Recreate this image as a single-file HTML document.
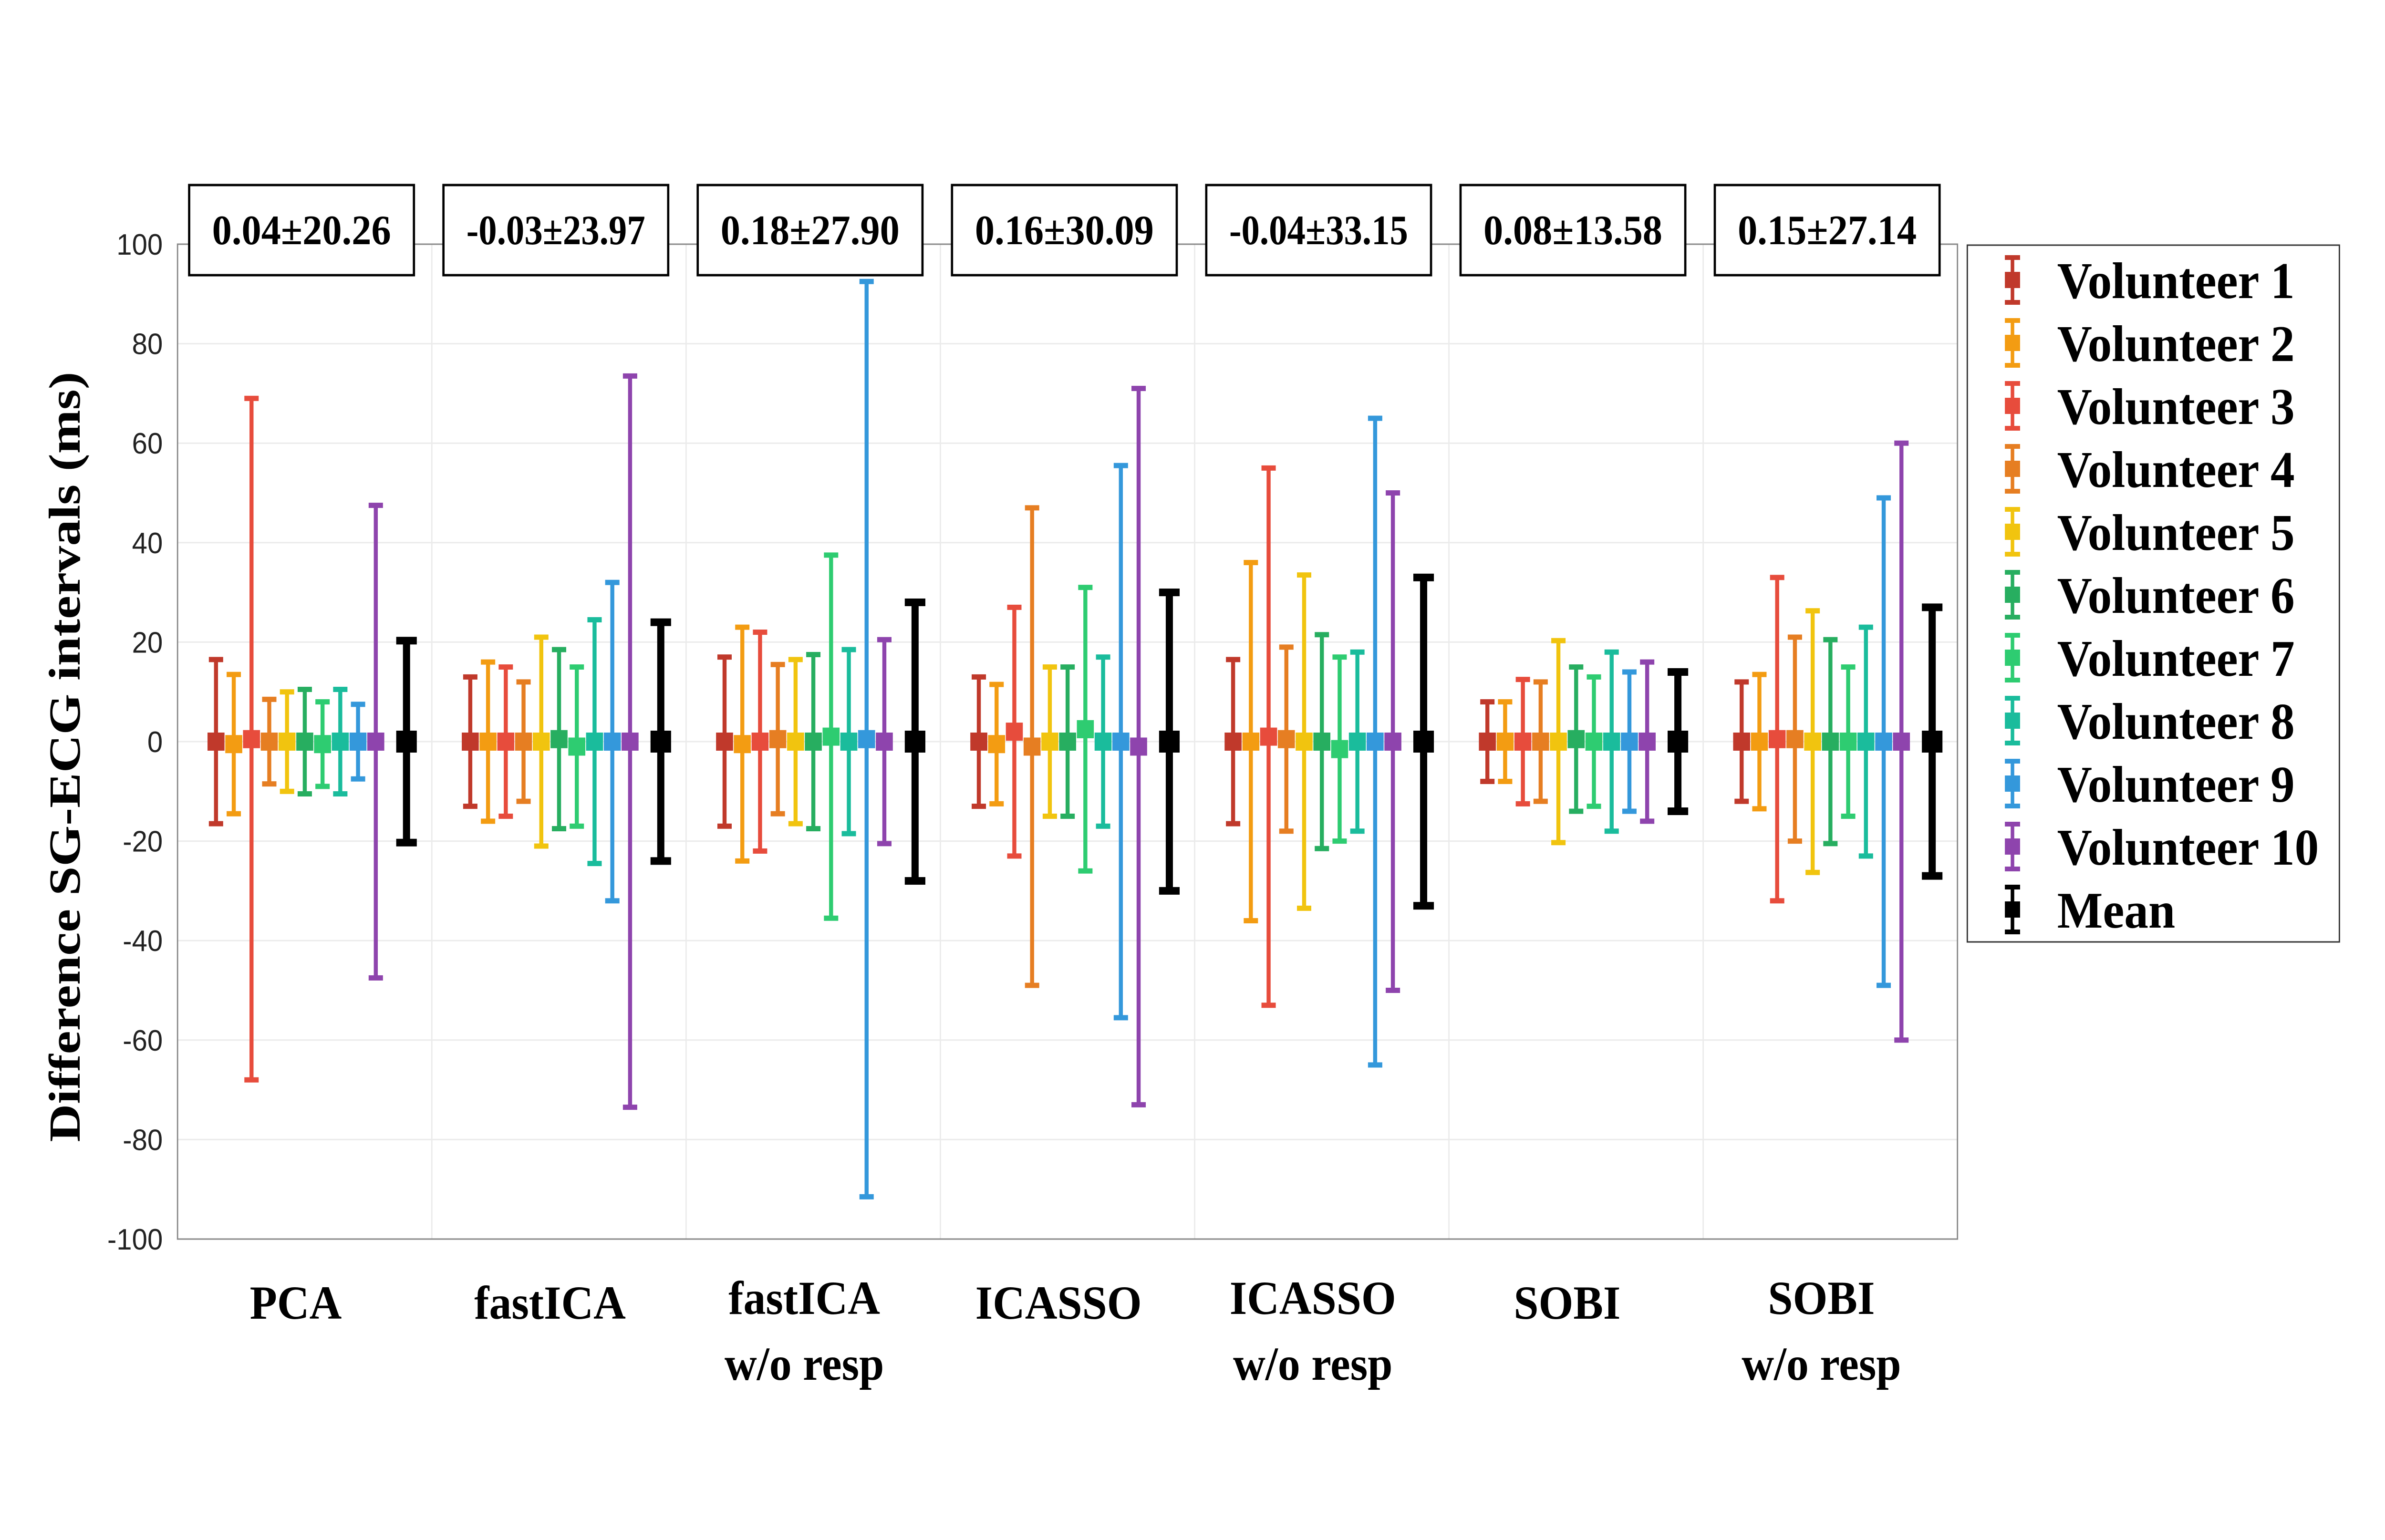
<!DOCTYPE html>
<html><head><meta charset="utf-8"><style>
html,body{margin:0;padding:0;background:#fff;width:100vw;height:100vh;overflow:hidden;}
svg{display:block;width:100vw;height:100vh;}
</style></head><body>
<svg id="chart" xmlns="http://www.w3.org/2000/svg" viewBox="0 0 5333 3229" preserveAspectRatio="none">
<rect width="5333" height="3229" fill="#fff"/>
<g id="grid"></g><g id="marks"></g><g id="labels"></g>
</svg>
<script>
const categories = ["PCA","fastICA","fastICA|w/o resp","ICASSO","ICASSO|w/o resp","SOBI","SOBI|w/o resp"];
const summaryLabels = ["0.04±20.26","-0.03±23.97","0.18±27.90","0.16±30.09","-0.04±33.15","0.08±13.58","0.15±27.14"];
const seriesNames = ["Volunteer 1","Volunteer 2","Volunteer 3","Volunteer 4","Volunteer 5","Volunteer 6","Volunteer 7","Volunteer 8","Volunteer 9","Volunteer 10","Mean"];
const seriesColors = ["#c0392b","#f39c12","#e74c3c","#e67e22","#f1c40f","#27ae60","#2ecc71","#1abc9c","#3498db","#8e44ad","#000000"];
const yTicks = [100,80,60,40,20,0,-20,-40,-60,-80,-100];
const centers = [
 [0,-0.5,0.5,0,0,0,-0.5,0,0,0,0],
 [0,0,0,0,0,0.5,-1,0,0,0,0],
 [0,-0.5,0,0.5,0,0,1,0,0.5,0,0],
 [0,-0.5,2,-1,0,0,2.5,0,0,-1,0],
 [0,0,1,0.5,0,0,-1.5,0,0,0,0],
 [0,0,0,0,0,0.5,0,0,0,0,0],
 [0,0,0.5,0.5,0,0,0,0,0,0,0]
];
const halfWidths = [
 [16.5,14,68.5,8.5,10,10.5,8.5,10.5,7.5,47.5,20.3],
 [13,16,15,12,21,18,16,24.5,32,73.5,24],
 [17,23.5,22,15,16.5,17.5,36.5,18.5,92,20.5,28],
 [13,12,25,48,15,15,28.5,17,55.5,72,30],
 [16.5,36,54,18.5,33.5,21.5,18.5,18,65,50,33],
 [8,8,12.5,12,20.3,14.5,13,18,14,16,14],
 [12,13.5,32.5,20.5,26.3,20.5,15,23,49,60,27]
];
const NS="http://www.w3.org/2000/svg";
const L=397,R=4377,T=512,B=2598,PW=(R-L)/7;
function yS(v){return T+(100-v)*(B-T)/200;}
function xS(p,i){return L+p*PW+(i<10?86+i*39.7:512);}
function mk(tag,attrs,parent,txt){const e=document.createElementNS(NS,tag);for(const k in attrs)e.setAttribute(k,attrs[k]);if(txt!==undefined)e.textContent=txt;parent.appendChild(e);return e;}
const grid=document.getElementById('grid'),marks=document.getElementById('marks'),labels=document.getElementById('labels');
yTicks.forEach(v=>{
  if(v<100&&v>-100){const g=mk('line',{x1:L,x2:R,y1:yS(v),y2:yS(v),stroke:'#ebebeb','stroke-width':3},grid);
  
  }
  const t=mk('text',{x:364,y:yS(v)+22,'text-anchor':'end','font-family':'Liberation Sans, sans-serif','font-size':62,fill:'#222'},labels,String(v));
  
  
});
for(let p=1;p<7;p++){const g=mk('line',{x1:L+p*PW,x2:L+p*PW,y1:T,y2:B,stroke:'#ebebeb','stroke-width':3},grid);
 
 }
const frame=mk('rect',{x:L,y:T,width:R-L,height:B-T,fill:'none',stroke:'#888','stroke-width':3},grid);


categories.forEach((c,p)=>{
  const bx=L+p*PW+26,bw=PW-66;
  const box=mk('rect',{x:bx,y:388,width:bw,height:189,fill:'#fff',stroke:'#000','stroke-width':5},labels);
  
  
  const st=mk('text',{x:bx+bw/2,y:512,'text-anchor':'middle','font-family':'Liberation Serif, serif','font-weight':'bold','font-size':88,textLength:400,lengthAdjust:'spacingAndGlyphs'},labels,summaryLabels[p]);
  
  
  const lines=c.split('|'),cx=L+p*PW+PW/2-20;
  lines.forEach((ln,k)=>{
    const t=mk('text',{x:cx,y:(lines.length>1?2755:2765)+k*138,'text-anchor':'middle','font-family':'Liberation Serif, serif','font-weight':'bold','font-size':100},labels,ln);
    
    
  });
  for(let i=0;i<11;i++){
    const x=xS(p,i),c0=centers[p][i],h=halfWidths[p][i],col=seriesColors[i];
    const isM=i===10,lw=isM?16:9,cw=isM?46:32,ch=isM?16:11,ms=isM?46:38;
    const g=mk('g',{},marks);
    
    
    const yt=yS(c0+h),yb=yS(c0-h),yc=yS(c0);
    mk('rect',{x:x-lw/2,y:yt,width:lw,height:yb-yt,fill:col},g);
    mk('rect',{x:x-cw/2,y:yt-ch/2,width:cw,height:ch,fill:col},g);
    mk('rect',{x:x-cw/2,y:yb-ch/2,width:cw,height:ch,fill:col},g);
    mk('rect',{x:x-ms/2,y:yc-ms/2,width:ms,height:ms,fill:col},g);
  }
});
const yt=mk('text',{x:0,y:0,transform:'translate(178,1587) rotate(-90)','text-anchor':'middle','font-family':'Liberation Serif, serif','font-weight':'bold','font-size':100,textLength:1615,lengthAdjust:'spacingAndGlyphs'},labels,'Difference SG-ECG intervals (ms)');


const lg=mk('g',{},labels);


mk('rect',{x:4399,y:514,width:832,height:1461,fill:'#fff',stroke:'#333','stroke-width':3},lg);
seriesNames.forEach((n,i)=>{
  const y=587+i*132,col=seriesColors[i];
  const e=mk('g',{},lg);
  
  
  mk('rect',{x:4496,y:y-52,width:8,height:104,fill:col},e);
  mk('rect',{x:4483,y:y-52,width:34,height:10,fill:col},e);
  mk('rect',{x:4483,y:y+42,width:34,height:10,fill:col},e);
  mk('rect',{x:4483,y:y-17,width:34,height:34,fill:col},e);
  mk('text',{x:4600,y:y+38,'font-family':'Liberation Serif, serif','font-weight':'bold','font-size':108},e,n);
});
</script>
</body></html>
